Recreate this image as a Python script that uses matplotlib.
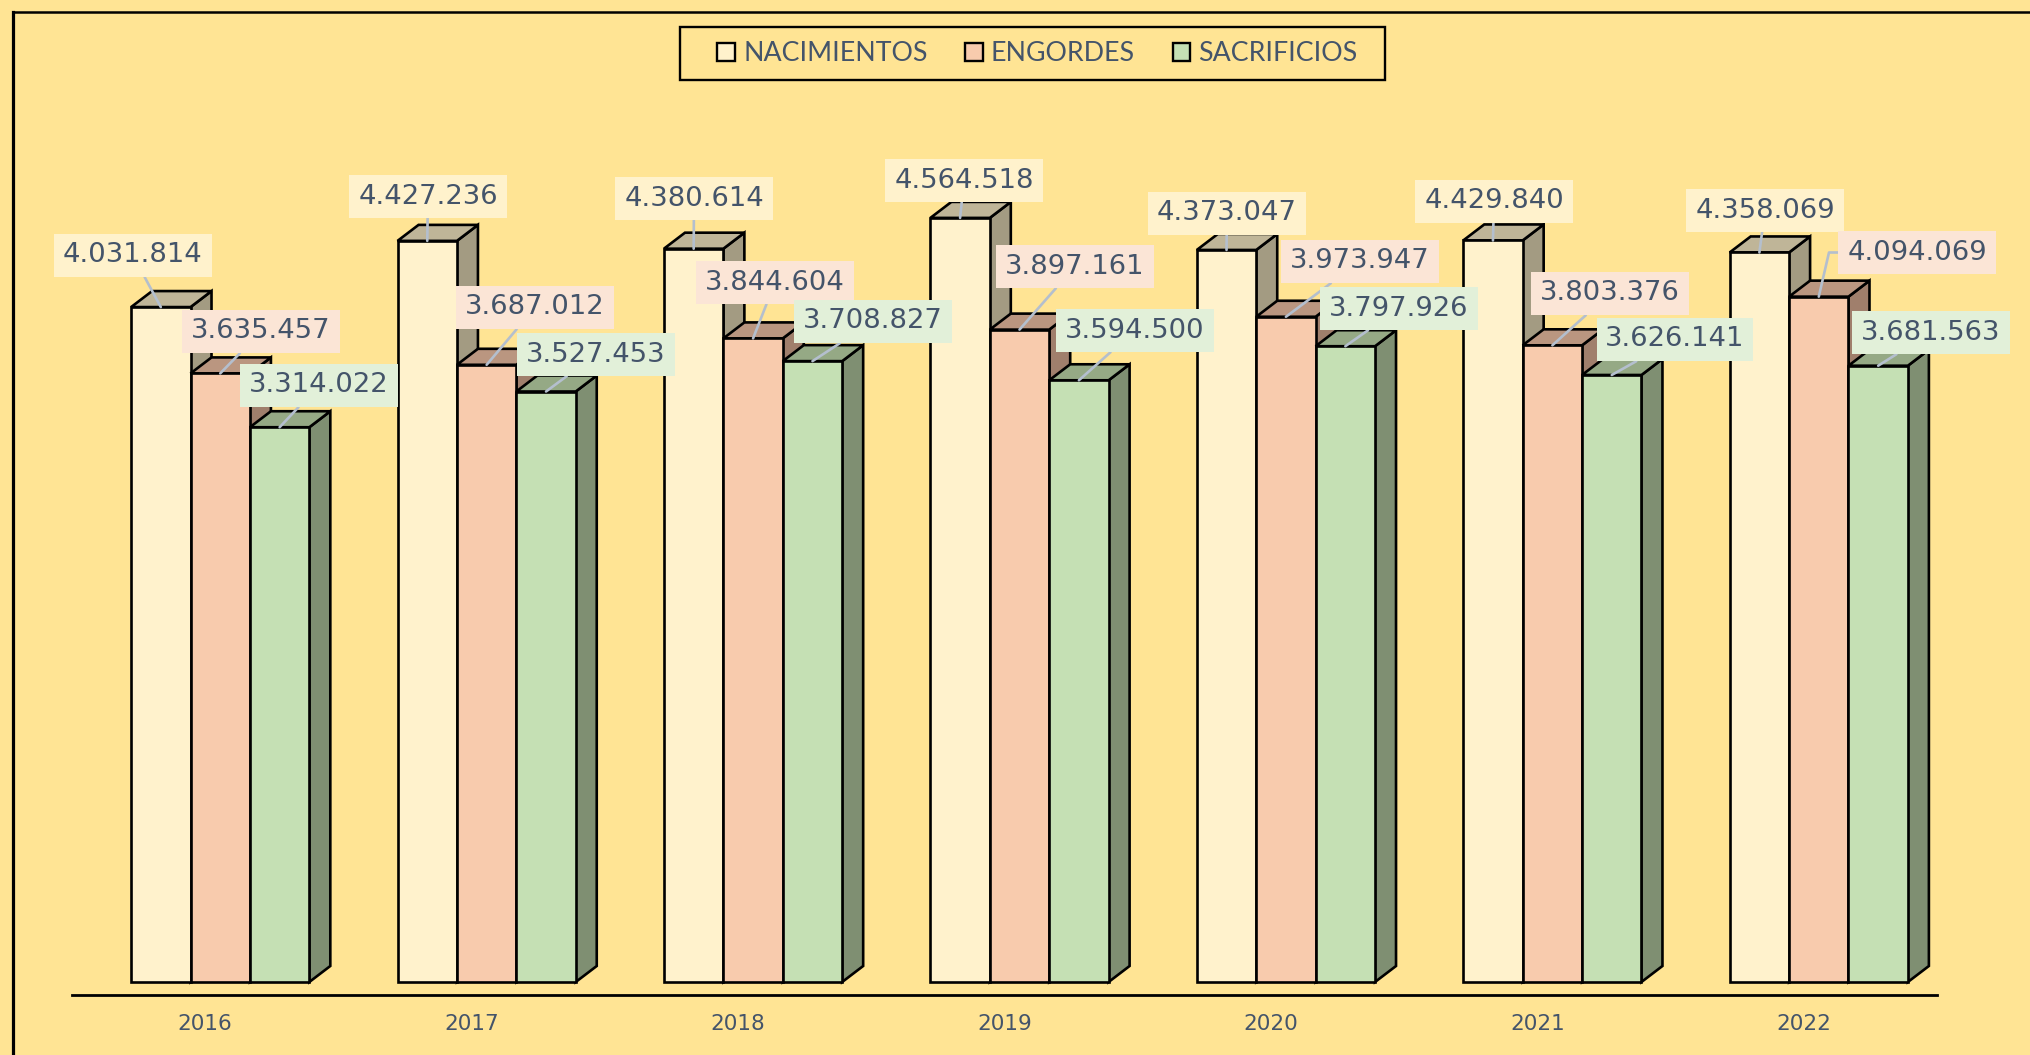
import matplotlib
matplotlib.use("Agg")
import matplotlib.pyplot as plt
import numpy as np
from matplotlib.patches import Polygon, Rectangle
from matplotlib.lines import Line2D

years = ["2016", "2017", "2018", "2019", "2020", "2021", "2022"]
nacimientos = [4031814, 4427236, 4380614, 4564518, 4373047, 4429840, 4358069]
engordes = [3635457, 3687012, 3844604, 3897161, 3973947, 3803376, 4094069]
sacrificios = [3314022, 3527453, 3708827, 3594500, 3797926, 3626141, 3681563]
series_names = ["NACIMIENTOS", "ENGORDES", "SACRIFICIOS"]

W, H = 2031, 1055
BG = "#FFE494"
TEXT = "#44546A"
LEADER = "#B4BFCE"
front = ["#FFF2CC", "#F8CBAD", "#C5E0B4"]
side = ["#A39B82", "#A07F6C", "#7F8F72"]
top = ["#BFB598", "#BA9680", "#95A985"]
label_bg = ["#FFF2CC", "#FBE5D6", "#E2F0D9"]

# label box centres, in reference pixels from the top left
nac_boxes = [(133, 254), (428, 195), (694, 197), (964, 179), (1227, 212), (1494, 200), (1765, 209)]
eng_boxes = [(261, 330), (535, 306), (775, 281), (1075, 265), (1360, 260), (1610, 292), (1917, 251)]
sac_boxes = [(319, 384), (596, 353), (873, 320), (1135, 329), (1399, 307), (1675, 338), (1931, 331)]

plt.rcParams["font.family"] = ["DejaVu Sans"]

fig = plt.figure(figsize=(W / 100, H / 100), dpi=100, facecolor=BG)
ax = fig.add_axes([72 / W, (H - 995) / H, (1937 - 72) / W, 995 / H])
ax.patch.set_alpha(0)

px_per_head = 1.674e-4
px_per_cat = (1937 - 72) / 7
ax.set_xlim(-0.5, 6.5)
ax.set_ylim(-13 / px_per_head, 982 / px_per_head)

bar_w = 59.4 / px_per_cat
shift = 15 / px_per_cat
dx = 21 / px_per_cat
dy = 16 / px_per_head

x = np.arange(len(years))
all_series = [nacimientos, engordes, sacrificios]
all_boxes = [nac_boxes, eng_boxes, sac_boxes]
EDGE = dict(edgecolor="black", linewidth=1.9, joinstyle="miter")

for g in x:
    for s, vals in enumerate(all_series):
        left = g + shift + (s - 1.5) * bar_w
        right = left + bar_w
        v = vals[g]
        ax.add_patch(Polygon([(right, 0), (right + dx, dy), (right + dx, v + dy), (right, v)],
                             facecolor=side[s], zorder=2 + s * 0.1, **EDGE))
        ax.add_patch(Polygon([(left, v), (left + dx, v + dy), (right + dx, v + dy), (right, v)],
                             facecolor=top[s], zorder=2 + s * 0.1, **EDGE))
        ax.bar(left, v, width=bar_w, align="edge", color=front[s],
               zorder=2.05 + s * 0.1, **EDGE)

for s, vals in enumerate(all_series):
    for g in x:
        tip = (g + shift + (s - 1) * bar_w, vals[g])
        bx, by = all_boxes[s][g]
        arrow = dict(arrowstyle="-", color=LEADER, lw=1.9, shrinkA=0, shrinkB=0)
        if s == 1 and g == 6:
            # this one has an elbow
            arrow.update(relpos=(0, 0.5), connectionstyle="angle,angleA=0,angleB=77,rad=0")
        ax.annotate(f"{vals[g]:,}".replace(",", "."), xy=tip, xycoords="data",
                    xytext=(bx, H - by - 1.5), textcoords="figure pixels",
                    ha="center", va="center", fontsize=19.7, color=TEXT, zorder=5,
                    bbox=dict(boxstyle="square,pad=0.32", facecolor=label_bg[s], edgecolor="none"),
                    arrowprops=arrow)

ax.set_xticks(x)
ax.set_xticklabels(years, fontsize=15.5, color=TEXT)
ax.tick_params(axis="x", length=0, pad=14)
ax.set_yticks([])
for name in ["top", "left", "right"]:
    ax.spines[name].set_visible(False)
ax.spines["bottom"].set_linewidth(2)
ax.spines["bottom"].set_color("black")

# frame of the chart is cut on the right and at the bottom
fig.add_artist(Line2D([13 / W, 1], [(H - 11.5) / H] * 2, color="black", lw=1.8))
fig.add_artist(Line2D([13 / W, 13 / W], [0, (H - 11.5) / H], color="black", lw=2.3))

# legend frame is wider than legend's own padding allows
fig.add_artist(Rectangle((680 / W, (H - 80) / H), 705 / W, 53 / H, transform=fig.transFigure,
                         facecolor="none", edgecolor="black", linewidth=1.7))
handles = [Rectangle((0, 0), 1, 1, facecolor=front[i], edgecolor="black", linewidth=1.7)
           for i in range(3)]
leg = fig.legend(handles, series_names, loc="center",
                 bbox_to_anchor=(1037.5 / W, (H - 53.5) / H), ncol=3, frameon=False,
                 prop=dict(family="Lato", size=19.3),
                 labelcolor=TEXT, handlelength=0.66, handleheight=0.66,
                 handletextpad=0.3, columnspacing=1.4, borderpad=0, borderaxespad=0)

fig.savefig("out.png", dpi=100, facecolor=BG)
